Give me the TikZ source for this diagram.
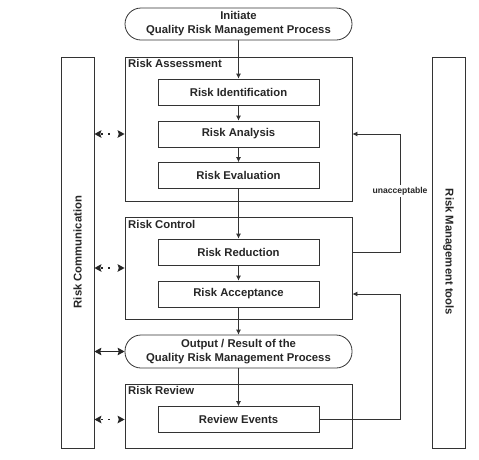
\documentclass[tikz,border=0pt]{standalone}
\usepackage{fontspec}
\setmainfont{Liberation Sans}
\usetikzlibrary{arrows.meta,calc}
\begin{document}
\begin{tikzpicture}[x=1pt,y=-1pt,
  every node/.style={font=\fontsize{11.3}{14}\selectfont\bfseries, text=black!85, inner sep=0pt},
  grp/.style={draw=black!80, line width=0.8pt, minimum width=227pt},
  stepbox/.style={draw=black!80, line width=0.8pt, minimum width=161pt, minimum height=26pt},
  pill/.style={draw=black!80, line width=0.8pt, minimum width=227pt, rounded corners=16pt, align=center},
  side/.style={draw=black!80, line width=0.8pt, minimum width=33pt, minimum height=391pt},
  grplabel/.style={anchor=north west},
  arr/.style={draw=black!80, line width=0.8pt, -{Latex[length=5pt,width=5pt]}},
  dotarr/.style={draw=black!85, line width=1.8pt, dash pattern=on 0pt off 1.2pt on 1.8pt off 5.2pt on 1.8pt off 30pt, {Stealth[length=7pt,width=7.5pt,inset=1.2pt]}-{Stealth[length=7pt,width=7.5pt,inset=1.2pt]}},
  solarr/.style={draw=black!85, line width=1pt, {Stealth[length=7pt,width=7.5pt,inset=1.2pt]}-{Stealth[length=7pt,width=7.5pt,inset=1.2pt]}}
]
\useasboundingbox (0,0) rectangle (479,459);
% side bars
\node[side] (comm) at (77.5,252.5) {};
\node[rotate=90] (commt) at (77.5,252) {Risk Communication};
\node[side] (tools) at (448.5,252.5) {};
\node[rotate=-90] (toolst) at (448.5,252) {Risk Management tools};
% top pill
\node[pill, minimum height=32pt] (init) at (238.5,24) {Initiate\\Quality Risk Management Process};
% groups
\node[grp, minimum height=144pt] (ra) at (238.5,129) {};
\node[grplabel] (ral) at (128,59) {Risk Assessment};
\node[grp, minimum height=102pt] (rc) at (238.5,268) {};
\node[grplabel] (rcl) at (128,220) {Risk Control};
\node[pill, minimum height=33pt] (out) at (238.5,351.5) {Output / Result of the\\Quality Risk Management Process};
\node[grp, minimum height=64pt] (rr) at (238.5,416) {};
\node[grplabel] (rrl) at (128,386) {Risk Review};
% steps
\node[stepbox] (rid) at (238.5,92) {Risk Identification};
\node[stepbox] (ran) at (238.5,134) {Risk Analysis};
\node[stepbox] (rev) at (238.5,175.5) {Risk Evaluation};
\node[stepbox] (rred) at (238.5,252) {Risk Reduction};
\node[stepbox] (racc) at (238.5,294) {Risk Acceptance};
\node[stepbox] (revents) at (238.5,419.5) {Review Events};
% main flow
\draw[arr] (init) -- (rid);
\draw[arr] (rid) -- (ran);
\draw[arr] (ran) -- (rev);
\draw[arr] (rev) -- (rred);
\draw[arr] (rred) -- (racc);
\draw[arr] (racc) -- (out);
\draw[arr] (out) -- (revents);
% feedback loops
\coordinate (fbx) at (400,0);
\draw[arr] (rred -| rc.east) -- (rred -| fbx) -- (ran -| fbx) -- (ran -| ra.east);
\node[fill=white, inner sep=1.5pt, font=\fontsize{8.6}{10}\selectfont\bfseries] (unacc) at (400,191) {unacceptable};
\draw[arr] (revents.east) -- (revents -| fbx) -- (racc -| fbx) -- (racc -| rc.east);
% communication arrows
\draw[dotarr] (comm.east |- ran) -- (ran -| ra.west);
\draw[dotarr] (comm.east |- rc.west) -- (rc.west);
\draw[solarr] (comm.east |- out.west) -- (out.west);
\draw[dotarr] (comm.east |- revents) -- (revents -| rr.west);
\end{tikzpicture}
\end{document}
